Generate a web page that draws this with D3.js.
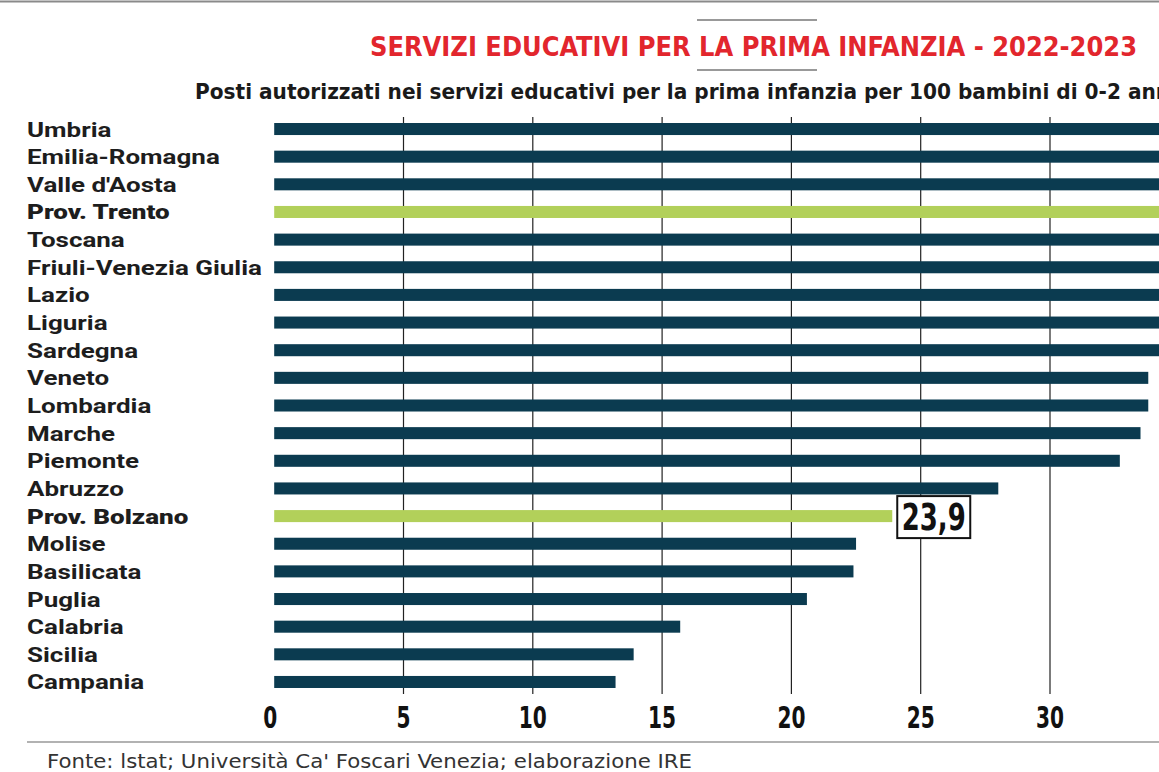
<!DOCTYPE html>
<html>
<head>
<meta charset="utf-8">
<script src="https://cdn.jsdelivr.net/npm/d3@7"></script>
<style>
  html, body { margin: 0; padding: 0; background: #fff; overflow: hidden; }
  svg { display: block; }
</style>
</head>
<body>
<svg id="chart" width="1159" height="772"></svg>
<script>
const regions = ["Umbria","Emilia-Romagna","Valle d'Aosta","Prov. Trento","Toscana","Friuli-Venezia Giulia","Lazio","Liguria","Sardegna","Veneto","Lombardia","Marche","Piemonte","Abruzzo","Prov. Bolzano","Molise","Basilicata","Puglia","Calabria","Sicilia","Campania"];
const values = [46.8, 44.5, 43.4, 42.6, 41.0, 38.0, 37.9, 35.1, 34.8, 33.8, 33.8, 33.5, 32.7, 28.0, 23.9, 22.5, 22.4, 20.6, 15.7, 13.9, 13.2];
const highlighted = ["Prov. Trento", "Prov. Bolzano"];
const tickValues = [0, 5, 10, 15, 20, 25, 30];
const calloutRegion = "Prov. Bolzano";
const calloutLabel = "23,9";
const titleText = "SERVIZI EDUCATIVI PER LA PRIMA INFANZIA - 2022-2023";
const subtitleText = "Posti autorizzati nei servizi educativi per la prima infanzia per 100 bambini di 0-2 anni";
const sourceText = "Fonte: lstat; Università Ca' Foscari Venezia; elaborazione IRE";

const data = regions.map((r, i) => ({ region: r, value: values[i] }));

const svg = d3.select("#chart");
const condensed = "'DejaVu Sans Condensed', 'Liberation Sans Narrow', 'Roboto', sans-serif";
const navy = "#0b3b50";
const green = "#b2d05a";

// top border
svg.append("line").attr("x1", 0).attr("x2", 1159).attr("y1", 1.5).attr("y2", 1.5)
  .attr("stroke", "#8a8a8a").attr("stroke-width", 2);

// title decorations
svg.append("line").attr("x1", 697).attr("x2", 817).attr("y1", 20).attr("y2", 20)
  .attr("stroke", "#777").attr("stroke-width", 1.5);
svg.append("line").attr("x1", 697).attr("x2", 817).attr("y1", 70).attr("y2", 70)
  .attr("stroke", "#777").attr("stroke-width", 1.5);

svg.append("text").attr("x", 370).attr("y", 56)
  .attr("font-family", condensed).attr("font-weight", "bold").attr("font-size", 27)
  .attr("fill", "#e2262d").attr("textLength", 767).attr("lengthAdjust", "spacingAndGlyphs")
  .text(titleText);

svg.append("text").attr("x", 195).attr("y", 99)
  .attr("font-family", condensed).attr("font-weight", "bold").attr("font-size", 22)
  .attr("fill", "#1a1a1a").attr("textLength", 982).attr("lengthAdjust", "spacingAndGlyphs")
  .text(subtitleText);

// scales
const x = d3.scaleLinear().domain([0, 35]).range([274.2, 274.2 + 35 * 25.86]);
const y = d3.scaleBand().domain(regions).range([115.2, 695.8])
  .paddingInner(0.565).paddingOuter(0.2825);

// gridlines
svg.append("g").selectAll("line").data(tickValues.filter(d => d > 0)).join("line")
  .attr("x1", d => x(d)).attr("x2", d => x(d))
  .attr("y1", 117).attr("y2", 694)
  .attr("stroke", "#222").attr("stroke-width", 1.2);

// bars
svg.append("g").selectAll("rect").data(data).join("rect")
  .attr("x", x(0))
  .attr("y", d => y(d.region))
  .attr("width", d => x(d.value) - x(0))
  .attr("height", y.bandwidth())
  .attr("fill", d => highlighted.includes(d.region) ? green : navy);

// category labels (stretched horizontally to match the reference's wider face)
const labels = svg.append("g").selectAll("text").data(data).join("text")
  .attr("x", 27)
  .attr("y", d => y(d.region) + y.bandwidth() / 2 + 7.5)
  .attr("font-family", "Roboto, 'Open Sans', sans-serif")
  .attr("font-weight", d => highlighted.includes(d.region) ? 900 : 700)
  .attr("font-size", 21)
  .attr("fill", "#1d1d1d")
  .text(d => d.region);
const ref = labels.filter(d => d.region === "Friuli-Venezia Giulia").node();
const stretch = ref ? 235 / ref.getComputedTextLength() : 1;
labels.each(function () {
  const w = this.getComputedTextLength();
  d3.select(this).attr("textLength", w * stretch).attr("lengthAdjust", "spacingAndGlyphs");
});

// x axis tick labels
svg.append("g").selectAll("text").data(tickValues).join("text")
  .attr("x", d => x(d) - (d === 0 ? 4 : 0))
  .attr("y", 728)
  .attr("text-anchor", "middle")
  .attr("font-family", condensed).attr("font-weight", "bold").attr("font-size", 31)
  .attr("fill", "#111")
  .attr("textLength", d => String(d).length * 14)
  .attr("lengthAdjust", "spacingAndGlyphs")
  .text(d => d);

// callout
const cd = data.find(d => d.region === calloutRegion);
const cg = svg.append("g");
const cx = x(cd.value) + 5;
const cy = y(cd.region) + y.bandwidth() / 2;
cg.append("rect").attr("x", cx).attr("y", cy - 20).attr("width", 73).attr("height", 42)
  .attr("fill", "#fff").attr("stroke", "#111").attr("stroke-width", 2);
cg.append("text").attr("x", cx + 36.5).attr("y", cy + 14).attr("text-anchor", "middle")
  .attr("font-family", condensed).attr("font-weight", "bold").attr("font-size", 37)
  .attr("fill", "#111").attr("textLength", 64).attr("lengthAdjust", "spacingAndGlyphs")
  .text(calloutLabel);

// bottom rule + source
svg.append("line").attr("x1", 27).attr("x2", 1159).attr("y1", 742).attr("y2", 742)
  .attr("stroke", "#999").attr("stroke-width", 1.5);
svg.append("text").attr("x", 47).attr("y", 768)
  .attr("font-family", condensed).attr("font-weight", 300).attr("font-size", 20)
  .attr("fill", "#333").attr("textLength", 645).attr("lengthAdjust", "spacingAndGlyphs")
  .text(sourceText);
</script>
</body>
</html>
